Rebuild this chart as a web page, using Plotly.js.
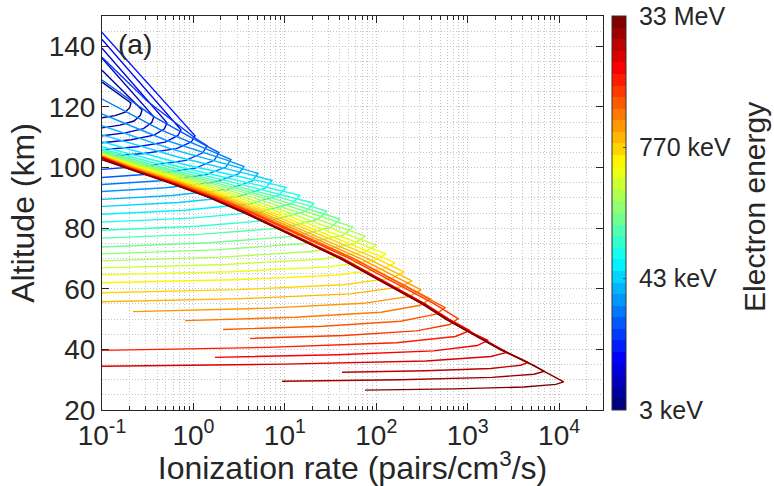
<!DOCTYPE html>
<html><head><meta charset="utf-8">
<script src="https://cdn.plot.ly/plotly-3.0.1.min.js"></script>
<style>html,body{margin:0;padding:0;background:#fff}#chart{width:774px;height:486px}</style>
</head><body><div id="chart"></div>
<script>
// Colour-bar (electron energy) tick positions and labels
const energyTickPos = [0, 1/3, 2/3, 1];
const energyTickText = ['3 keV', '43 keV', '770 keV', '33 MeV'];
const energyTitle = 'Electron energy';
// Axis ticks
const xTickVals = [0.1, 1, 10, 100, 1000, 10000];
const xTickText = ['10<sup>-1</sup>', '10<sup>0</sup>', '10<sup>1</sup>', '10<sup>2</sup>', '10<sup>3</sup>', '10<sup>4</sup>'];
const yTickVals = [20, 40, 60, 80, 100, 120, 140];

// Profiles, lowest energy (index 0) to highest (index 33): altitude (km)
const curveAlt = [
 [128.2,124.8,122.8,121.31,119.84,118.27,117.14,116.4],
 [132.1,125.6,121.3,119.02,117.24,115.35,113.99,113.1],
 [136.1,126.4,119.3,116.72,114.85,112.86,111.43,110.5],
 [139.4,127.1,117.5,114.76,112.79,110.69,109.18,108.2],
 [142.3,127.4,115.5,112.46,110.49,108.39,106.88,105.9],
 [144.6,127.5,114,110.5,108.43,106.22,104.64,103.6],
 [136.4,121.8,109.5,107.22,104.87,102.37,100.57,99.4],
 [128.9,116.9,107.3,104.92,102.45,99.82,97.93,96.7],
 [122.6,112.6,105.0,102.63,100.16,97.53,95.63,94.4],
 [117.7,109.0,102.6,100.33,97.86,95.23,93.33,92.1],
 [113.8,105.9,100.2,98.04,95.48,92.75,90.78,89.5],
 [110.8,103.3,97.9,95.74,93.18,90.45,88.48,87.2],
 [108.5,101.0,95.6,93.45,90.8,87.96,85.93,84.6],
 [106.86,100,95,92.0,90.82,88.17,85.35,83.32,82.0],
 [106.14,100,95,90,88.2,85.53,82.68,80.64,79.3],
 [105.57,100,95,90,87.0,85.58,82.92,80.07,78.03,76.7],
 [105.14,100,95,90,85,82.95,80.21,77.28,75.17,73.8],
 [104.82,100,95,90,85,81.6,80.33,77.68,74.86,72.83,71.5],
 [104.58,100,95,90,85,80,78.6,77.38,74.93,72.31,70.43,69.2],
 [104.40,100,95,90,85,80,75.8,74.43,72.17,69.76,68.03,66.9],
 [104.23,100,95,90,85,80,75,72.8,71.48,69.42,67.21,65.63,64.6],
 [104.11,100,95,90,85,80,75,70,68.53,66.57,64.48,62.98,62.0],
 [103.99,100,95,90,85,80,75,70,67.0,65.58,63.52,61.31,59.73,58.7],
 [103.87,100,95,90,85,80,75,70,65,62.63,60.55,58.33,56.74,55.7],
 [103.75,100,95,90,85,80,75,70,65,61.0,59.67,57.51,55.2,53.54,52.46],
 [103.63,100,95,90,85,80,75,70,65,60,57.8,56.72,54.55,52.24,50.58,49.5],
 [103.54,100,95,90,85,80,75,70,65,60,55,53.77,51.61,49.3,47.64,46.56],
 [103.45,100,95,90,85,80,75,70,65,60,55,51.5,50.17,48.2,46.1,44.59,43.61],
 [103.4,100,95,90,85,80,75,70,65,60,55,50,46.23,44.27,42.17,40.66,39.68],
 [103.31,100,95,90,85,80,75,70,65,60,55,50,45,42.95,41.28,39.5,38.22,37.38],
 [103.21,100,95,90,85,80,75,70,65,60,55,50,45,40,39.02,37.64,36.17,35.12,34.43],
 [103.13,100,95,90,85,80,75,70,65,60,55,50,45,40,35.74,34.76,33.71,32.95,32.46],
 [103.05,100,95,90,85,80,75,70,65,60,55,50,45,40,35,32.79,31.81,30.76,30.0,29.51],
 [102.6,100,95,90,85,80,75,70,65,60,55,50,45,40,35,30,29.28,28.46,27.59,26.97,26.56]
];
// Ionization rate (pairs/cm^3/s), same order
const curveRate = [
 [0.1,0.1432,0.177,0.2075,0.2014,0.1795,0.139,0.1],
 [0.1,0.1652,0.2301,0.2742,0.263,0.2239,0.1574,0.1],
 [0.1,0.1923,0.3105,0.369,0.35,0.2844,0.1799,0.1],
 [0.1,0.2265,0.4285,0.514,0.4819,0.3707,0.2089,0.1],
 [0.1,0.2698,0.597,0.7311,0.6745,0.4909,0.2449,0.1],
 [0.1,0.3236,0.8128,1.042,0.9484,0.6516,0.2871,0.1],
 [0.1,0.3162,1.072,1.409,1.268,0.8299,0.3289,0.1],
 [0.1,0.3631,1.349,1.905,1.694,1.057,0.3767,0.1],
 [0.1,0.4266,1.698,2.576,2.265,1.346,0.4315,0.1],
 [0.1,0.5012,2.239,3.581,3.105,1.75,0.5,0.1],
 [0.1,0.6026,2.951,5.093,4.355,2.323,0.5861,0.1],
 [0.1,0.7079,3.89,7.244,6.109,3.076,0.6871,0.1],
 [0.1,0.7943,5.248,10.30,8.551,4.074,0.8054,0.1],
 [0.1,0.7499,3.908,10.09,14.66,12.0,5.408,0.944,0.1],
 [0.1,0.5715,2.799,12.79,20.84,16.83,7.161,1.104,0.1],
 [0.1,0.4624,2.133,9.183,20.0,28.91,23.07,9.311,1.279,0.1],
 [0.1,0.3954,1.734,7.112,24.77,40.18,31.62,12.11,1.486,0.1],
 [0.1,0.3499,1.469,5.768,19.28,41.69,55.72,43.25,15.74,1.722,0.1],
 [0.1,0.3119,1.242,4.603,14.55,42.85,58.08,75.51,57.94,20.04,1.972,0.1],
 [0.1,0.2851,1.076,3.784,11.35,31.7,75.16,99.54,75.51,25.0,2.234,0.1],
 [0.1,0.263,0.9484,3.192,9.12,24.38,65.16,99.54,127.9,96.16,30.62,2.5,0.1],
 [0.1,0.2477,0.857,2.773,7.621,19.59,50.23,125.9,160.7,119.7,36.73,2.773,0.1],
 [0.1,0.2355,0.7907,2.477,6.607,16.44,40.93,99.54,160.7,201.4,148.6,43.95,3.069,0.1],
 [0.1,0.2244,0.7311,2.226,5.765,13.93,33.69,79.6,171.4,246.6,180.3,51.76,3.357,0.1],
 [0.1,0.2148,0.6855,2.037,5.155,12.18,28.75,66.37,139.7,253.5,309,231.2,72.44,5.715,0.2183],
 [0.1,0.207,0.6457,1.883,4.671,10.81,25.04,56.65,116.9,241.3,331.9,388.1,303.4,113,13,0.809],
 [0.1,0.2028,0.6329,1.843,4.57,10.57,24.46,55.3,114,235.1,484.8,566.2,452.9,184.9,26.12,2.109],
 [0.1,0.198,0.6115,1.763,4.325,9.904,22.67,50.73,103.5,211.2,431,665.3,785.2,636.8,275.4,43.95,4.159],
 [0.1,0.1928,0.582,1.641,3.936,8.81,19.72,43.15,86.1,171.8,342.8,623.7,1062,732.8,166.3,6.486,0.1],
 [0.1,0.1897,0.5728,1.614,3.873,8.67,19.41,42.46,84.72,169.0,337.3,613.8,1197,1671,1271,422.7,38.02,1.722],
 [0.1,0.1862,0.5623,1.585,3.802,8.511,19.05,41.69,83.18,166.0,331.1,602.6,1175,2344,2698,1795,350.8,9.863,0.1],
 [0.1,0.1832,0.5534,1.56,3.741,8.375,18.75,41.02,81.85,163.3,325.8,592.9,1156,2307,4571,3793,1791,347.5,42.27],
 [0.1,0.1803,0.5445,1.535,3.681,8.241,18.45,40.36,80.54,160.7,320.6,583.4,1138,2270,5082,6902,5297,1841,182.0,9.311],
 [0.1,0.1778,0.537,1.514,3.631,8.128,18.2,39.81,79.43,158.5,316.2,575.4,1122,2239,5012,10000,11220,9183,4121,716.1,75.34]
];

// MATLAB-style jet colormap
function jet(t) {
  const c = v => Math.round(255 * Math.max(0, Math.min(1, v)));
  return 'rgb(' + c(1.5 - Math.abs(4 * t - 3)) + ',' + c(1.5 - Math.abs(4 * t - 2)) + ',' + c(1.5 - Math.abs(4 * t - 1)) + ')';
}
const N = curveAlt.length;
const stepScale = [];
for (let i = 0; i < N; i++) {
  const col = jet(i / (N - 1));
  stepScale.push([i / N, col]);
  stepScale.push([(i + 1) / N, col]);
}

const FONT = 'Liberation Sans, Arial, Helvetica, sans-serif';
const traces = [];
for (let k = 0; k < N; k++) {
  traces.push({
    type: 'scatter', mode: 'lines',
    x: curveRate[k], y: curveAlt[k],
    line: {color: jet(k / (N - 1)), width: 1.4},
    hoverinfo: 'skip', showlegend: false
  });
}
// colour bar carrier
const pad = '\u00a0';
traces.push({
  type: 'scatter', mode: 'markers', x: [null], y: [null], showlegend: false, hoverinfo: 'skip',
  marker: {
    color: [0], cmin: 0, cmax: 1, colorscale: stepScale, showscale: true, opacity: 0,
    colorbar: {
      x: 1.018, xanchor: 'left', xpad: 0, y: 0, yanchor: 'bottom', ypad: 0,
      len: 1, lenmode: 'fraction', thickness: 14, thicknessmode: 'pixels',
      outlinewidth: 1, outlinecolor: '#333',
      tickmode: 'array', tickvals: energyTickPos, ticktext: energyTickText.map(t => pad + t),
      ticks: 'inside', ticklen: 3, tickcolor: '#555',
      tickfont: {size: 25, color: '#262626', family: FONT}
    }
  }
});

const minorX = [];
for (let e = -1; e <= 4; e++) for (let m = 2; m <= 9; m++) minorX.push(m * Math.pow(10, e));

const gridCol = '#c4c4c4';
const layout = {
  width: 774, height: 486,
  margin: {l: 102, r: 171, t: 16, b: 76},
  paper_bgcolor: '#fff', plot_bgcolor: '#fff',
  font: {family: FONT, color: '#262626'},
  xaxis: {
    type: 'log', range: [-1, 4.48], automargin: false,
    tickmode: 'array', tickvals: xTickVals, ticktext: xTickText,
    ticks: 'inside', ticklen: 7, tickwidth: 1, tickcolor: '#262626',
    showline: true, linecolor: '#262626', linewidth: 1, mirror: 'ticks',
    showgrid: true, gridcolor: gridCol, griddash: '1px,2px', gridwidth: 1,
    minor: {tickmode: 'array', tickvals: minorX, ticks: 'inside', ticklen: 4, tickcolor: '#262626',
            showgrid: true, gridcolor: gridCol, griddash: '1px,2px', gridwidth: 1},
    zeroline: false,
    tickfont: {size: 28},
    title: {text: 'Ionization rate (pairs/cm<sup>3</sup>/s)', font: {size: 32}, standoff: 0}
  },
  yaxis: {
    range: [20, 150], automargin: false,
    tickmode: 'array', tickvals: yTickVals,
    ticks: 'inside', ticklen: 7, tickwidth: 1, tickcolor: '#262626',
    showline: true, linecolor: '#262626', linewidth: 1, mirror: 'ticks',
    showgrid: true, gridcolor: gridCol, griddash: '1px,2px', gridwidth: 1,
    minor: {dtick: 5, tick0: 20, ticks: '', showgrid: true, gridcolor: gridCol, griddash: '1px,2px', gridwidth: 1},
    zeroline: false,
    tickfont: {size: 28},
    title: {text: 'Altitude (km)', font: {size: 32}, standoff: 4}
  },
  annotations: [{
    xref: 'paper', yref: 'paper', x: 0.028, y: 0.927, xanchor: 'left', yanchor: 'middle',
    text: '(a)', showarrow: false, font: {size: 28, color: '#262626'}
  }, {
    xref: 'paper', yref: 'paper', x: 1.301, y: 0.515, xanchor: 'center', yanchor: 'middle',
    text: energyTitle, textangle: -90, showarrow: false, borderpad: 0,
    font: {size: 30, color: '#262626'}
  }]
};

Plotly.newPlot('chart', traces, layout, {displayModeBar: false, staticPlot: true});
</script>
</body></html>
